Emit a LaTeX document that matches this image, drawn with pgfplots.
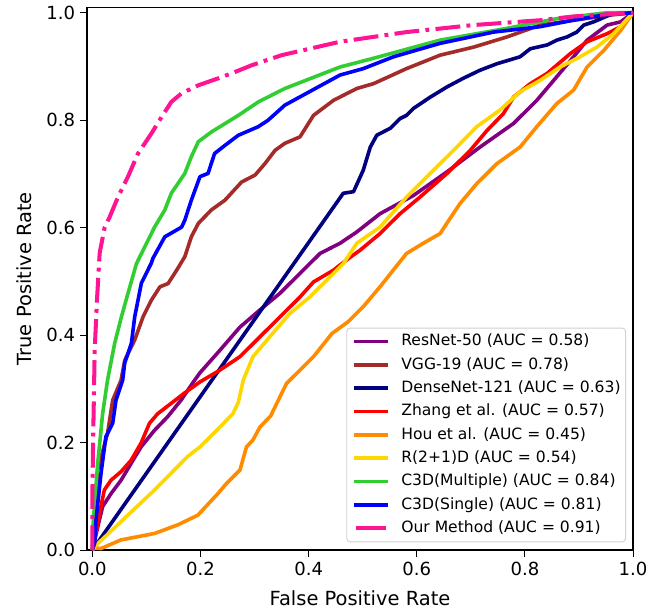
\documentclass[border=0pt]{standalone}
\usepackage{fontspec}
\setmainfont{DejaVu Sans}
\usepackage{pgfplots}
\pgfplotsset{compat=1.18}
\definecolor{cpurple}{HTML}{800080}
\definecolor{cbrown}{HTML}{A52A2A}
\definecolor{cnavy}{HTML}{000080}
\definecolor{cred}{HTML}{FF0000}
\definecolor{corange}{HTML}{FF8C00}
\definecolor{cgold}{HTML}{FFD700}
\definecolor{cgreen}{HTML}{32CD32}
\definecolor{cblue}{HTML}{0000FF}
\definecolor{cpink}{HTML}{FF1493}
\pgfplotsset{pinklegend/.style={legend image code/.code={\draw[##1, solid] (1.4pt,0pt) -- (23.1pt,0pt);}}}
\begin{document}
\begin{tikzpicture}
\begin{axis}[name=ax, scale only axis, width=393.1pt, height=390.7pt,
  xmin=-0.01, xmax=1.0, ymin=0, ymax=1.01,
  xtick={0,0.2,0.4,0.6,0.8,1}, ytick={0,0.2,0.4,0.6,0.8,1},
  tick align=outside, tick pos=left, major tick length=5pt,
  every tick/.style={black, line width=0.8pt},
  axis line style={line width=0.9pt},
  /pgf/number format/assume math mode=true,
  xticklabel style={/pgf/number format/fixed, /pgf/number format/fixed zerofill, /pgf/number format/precision=1},
  yticklabel style={/pgf/number format/fixed, /pgf/number format/fixed zerofill, /pgf/number format/precision=1},
  ticklabel style={font=\fontsize{13}{15}\selectfont},
  xlabel={False Positive Rate}, ylabel={True Positive Rate},
  label style={font=\fontsize{14}{16}\selectfont},
  xlabel style={at={(axis description cs:0.5,-0.088)}, anchor=center},
  ylabel style={at={(axis description cs:-0.115,0.5)}, anchor=center},
  every axis plot/.append style={line width=2.6pt, line join=round},
  legend cell align=left,
  legend image code/.code={\draw[#1] (0pt,0pt) -- (24.5pt,0pt);},
  legend style={at={(axis description cs:1,0)}, anchor=south east, xshift=-5pt, yshift=5.6pt,
    draw=black!18, line width=0.7pt, rounded corners=2.5pt, fill=white, fill opacity=0.8, text opacity=1,
    font=\fontsize{11.2}{13}\selectfont, inner xsep=3.6pt, inner ysep=4.4pt,
    row sep=6.1pt, column sep=8.6pt,
    nodes={inner sep=0pt, text height=8.4pt, text depth=2.3pt}},
]
\addplot[cpurple] coordinates {(0,0) (0.0043,0.019) (0.013,0.056) (0.019,0.081) (0.0344,0.105) (0.053,0.130) (0.0715,0.161) (0.090,0.192) (0.115,0.223) (0.139,0.248) (0.164,0.279) (0.189,0.316) (0.199,0.330) (0.236,0.372) (0.273,0.415) (0.310,0.447) (0.347,0.478) (0.384,0.515) (0.421,0.552) (0.458,0.571) (0.489,0.592) (0.532,0.626) (0.594,0.660) (0.656,0.704) (0.717,0.750) (0.779,0.794) (0.822,0.837) (0.859,0.881) (0.890,0.918) (0.915,0.949) (0.952,0.977) (0.977,0.983) (1,1)};
\addlegendentry{ResNet-50 (AUC = 0.58)}
\addplot[cbrown] coordinates {(0,0) (0.004,0.05) (0.0074,0.11) (0.0098,0.149) (0.028,0.217) (0.0376,0.279) (0.053,0.316) (0.0598,0.353) (0.0783,0.391) (0.0937,0.434) (0.109,0.465) (0.125,0.490) (0.140,0.496) (0.156,0.521) (0.171,0.546) (0.183,0.583) (0.196,0.608) (0.220,0.633) (0.245,0.651) (0.276,0.685) (0.301,0.698) (0.319,0.719) (0.338,0.744) (0.356,0.757) (0.384,0.769) (0.409,0.809) (0.446,0.837) (0.489,0.859) (0.520,0.868) (0.581,0.896) (0.643,0.921) (0.705,0.936) (0.767,0.955) (0.828,0.977) (0.890,0.986) (0.952,0.995) (1,1)};
\addlegendentry{VGG-19 (AUC = 0.78)}
\addplot[cnavy] coordinates {(0,0) (0.464,0.664) (0.483,0.667) (0.501,0.707) (0.514,0.750) (0.526,0.772) (0.551,0.785) (0.569,0.803) (0.581,0.809) (0.594,0.822) (0.625,0.843) (0.656,0.862) (0.686,0.878) (0.717,0.893) (0.748,0.905) (0.791,0.918) (0.810,0.933) (0.841,0.940) (0.859,0.949) (0.878,0.955) (0.896,0.964) (0.909,0.977) (0.927,0.983) (0.964,0.999) (1,1)};
\addlegendentry{DenseNet-121 (AUC = 0.63)}
\addplot[cred] coordinates {(0,0) (0.0067,0.031) (0.013,0.068) (0.0222,0.112) (0.0344,0.130) (0.053,0.146) (0.0715,0.167) (0.090,0.199) (0.1056,0.236) (0.121,0.254) (0.1456,0.273) (0.170,0.292) (0.199,0.313) (0.236,0.335) (0.273,0.360) (0.310,0.397) (0.347,0.434) (0.384,0.471) (0.409,0.499) (0.446,0.521) (0.470,0.540) (0.495,0.558) (0.532,0.589) (0.569,0.626) (0.606,0.657) (0.656,0.701) (0.699,0.744) (0.730,0.781) (0.760,0.812) (0.779,0.843) (0.810,0.868) (0.841,0.887) (0.884,0.924) (0.915,0.946) (0.952,0.961) (0.977,0.974) (1,1)};
\addlegendentry{Zhang et al. (AUC = 0.57)}
\addplot[corange] coordinates {(0,0) (0.001,0.004) (0.016,0.003) (0.053,0.019) (0.115,0.031) (0.158,0.047) (0.195,0.065) (0.232,0.105) (0.248,0.124) (0.273,0.149) (0.285,0.192) (0.297,0.205) (0.310,0.229) (0.330,0.250) (0.341,0.273) (0.359,0.310) (0.384,0.335) (0.409,0.360) (0.443,0.403) (0.473,0.425) (0.501,0.453) (0.532,0.490) (0.581,0.552) (0.612,0.571) (0.643,0.589) (0.680,0.645) (0.711,0.682) (0.748,0.719) (0.791,0.750) (0.822,0.788) (0.859,0.831) (0.890,0.856) (0.915,0.899) (0.946,0.930) (0.977,0.967) (1,1)};
\addlegendentry{Hou et al. (AUC = 0.45)}
\addplot[cgold] coordinates {(0,0) (0.0067,0.009) (0.115,0.112) (0.176,0.174) (0.199,0.192) (0.230,0.223) (0.260,0.254) (0.270,0.275) (0.279,0.316) (0.297,0.360) (0.328,0.397) (0.365,0.440) (0.402,0.471) (0.433,0.502) (0.464,0.533) (0.489,0.571) (0.532,0.601) (0.581,0.657) (0.625,0.701) (0.674,0.750) (0.711,0.788) (0.754,0.819) (0.791,0.853) (0.828,0.874) (0.865,0.899) (0.902,0.918) (0.933,0.936) (0.964,0.961) (1,1)};
\addlegendentry{R(2+1)D (AUC = 0.54)}
\addplot[cgreen] coordinates {(0,0) (0.0011,0.045) (0.0037,0.081) (0.0098,0.161) (0.019,0.254) (0.028,0.316) (0.0413,0.385) (0.0537,0.434) (0.0659,0.478) (0.0815,0.533) (0.115,0.601) (0.134,0.633) (0.146,0.664) (0.171,0.701) (0.183,0.732) (0.196,0.760) (0.220,0.778) (0.270,0.809) (0.307,0.834) (0.356,0.859) (0.458,0.899) (0.519,0.915) (0.643,0.949) (0.767,0.971) (0.859,0.989) (0.952,1.0) (1,1)};
\addlegendentry{C3D(Multiple) (AUC = 0.84)}
\addplot[cblue] coordinates {(0,0) (0.0043,0.013) (0.0067,0.056) (0.016,0.143) (0.025,0.211) (0.0376,0.236) (0.0437,0.279) (0.056,0.316) (0.0598,0.348) (0.0722,0.385) (0.0783,0.434) (0.0907,0.497) (0.109,0.534) (0.112,0.543) (0.134,0.583) (0.165,0.601) (0.171,0.614) (0.183,0.651) (0.199,0.695) (0.214,0.701) (0.226,0.738) (0.245,0.753) (0.270,0.772) (0.307,0.788) (0.325,0.800) (0.356,0.828) (0.458,0.884) (0.501,0.896) (0.557,0.918) (0.643,0.943) (0.742,0.964) (0.828,0.974) (0.889,0.986) (0.952,0.997) (1,1)};
\addlegendentry{C3D(Single) (AUC = 0.81)}
\addplot[cpink, line width=2.9pt, dash pattern=on 17.9pt off 4.5pt on 2.8pt off 4.5pt, pinklegend] coordinates {(0,0) (0.0,0.100) (0.0011,0.186) (0.0043,0.372) (0.0085,0.465) (0.0135,0.553) (0.0228,0.601) (0.032,0.620) (0.0474,0.657) (0.0659,0.695) (0.0844,0.738) (0.109,0.775) (0.128,0.806) (0.146,0.834) (0.165,0.850) (0.196,0.865) (0.233,0.878) (0.257,0.887) (0.294,0.902) (0.350,0.921) (0.458,0.946) (0.581,0.964) (0.704,0.977) (0.828,0.986) (0.889,0.993) (1,1)};
\addlegendentry{Our Method (AUC = 0.91)}
\end{axis}
\pgfresetboundingbox
\path[use as bounding box] ([xshift=-62.6pt,yshift=-42.5pt]ax.south west) rectangle ([xshift=19.4pt,yshift=5.3pt]ax.north east);
\end{tikzpicture}
\end{document}
